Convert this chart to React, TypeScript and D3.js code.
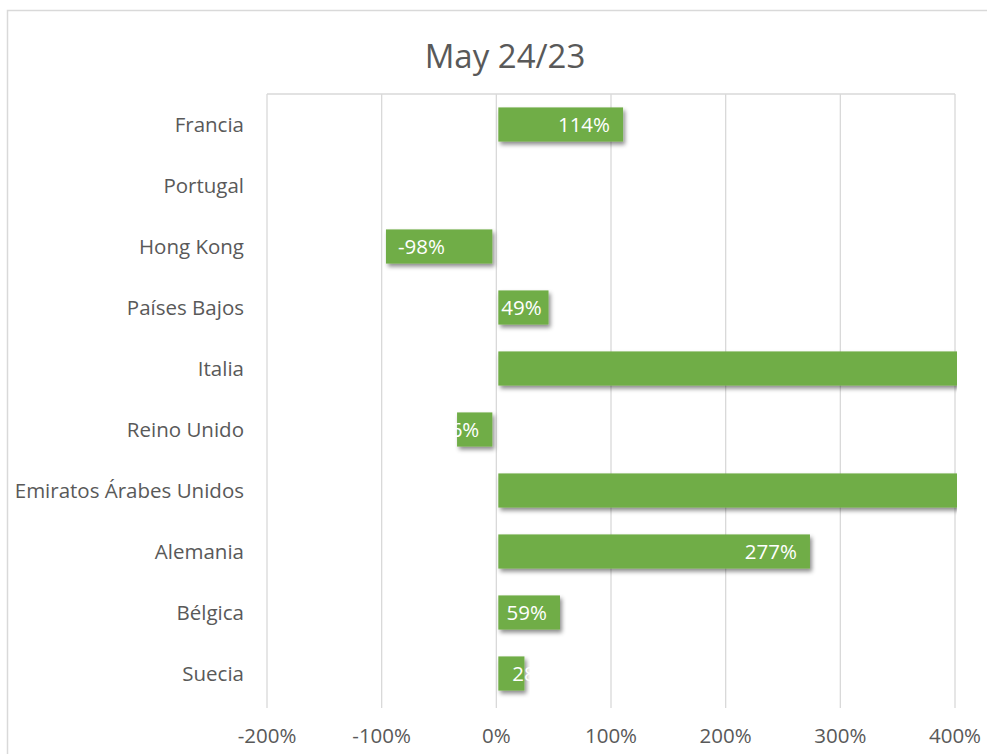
import React from "react";
import * as d3 from "d3";

const categories = [
  "Francia",
  "Portugal",
  "Hong Kong",
  "Países Bajos",
  "Italia",
  "Reino Unido",
  "Emiratos Árabes Unidos",
  "Alemania",
  "Bélgica",
  "Suecia",
];
const values: (number | null)[] = [1.14, null, -0.98, 0.49, 5.2, -0.36, 6.1, 2.77, 0.59, 0.28];
const ticks = [-2, -1, 0, 1, 2, 3, 4];
const title = "May 24/23";

const W = 987;
const H = 754;
const FONT = "'Open Sans', sans-serif";
const FS = 20.5;

export default function App() {
  const x = d3.scaleLinear().domain([-2, 4]).range([267, 955]);
  const y = d3
    .scaleBand<string>()
    .domain(categories)
    .range([94, 704])
    .paddingInner(0.44)
    .paddingOuter(0.22);
  const fmt = (v: number) => d3.format(".0%")(v).replace("\u2212", "-");
  const green = "#70AD47";
  const grid = "#D9D9D9";
  const textCol = "#595959";
  const [lo, hi] = x.domain();

  const measure = (s: string) => {
    let w = 0;
    for (const ch of s) w += ch === "%" ? 17 : ch === "-" ? 7 : 11.7;
    return w;
  };

  return (
    <svg
      width={W}
      height={H}
      style={{ position: "absolute", left: 0, top: 0, background: "#fff" }}
      fontFamily={FONT}
    >
      <defs>
        <filter id="sh" x="-10%" y="-30%" width="130%" height="180%">
          <feDropShadow dx="2" dy="3" stdDeviation="2.2" floodColor="#000" floodOpacity="0.45" />
        </filter>
        <clipPath id="plotclip">
          <rect x={x(lo)} y={80} width={x(hi) - x(lo) + 2} height={640} />
        </clipPath>
      </defs>
      <rect x={7.5} y={10.5} width={W + 20} height={H + 20} fill="#fff" stroke={grid} strokeWidth={1.5} />
      <text x={505} y={68} textAnchor="middle" fontSize={33} fill={textCol}>
        {title}
      </text>
      {ticks.map((t) => (
        <line key={"g" + t} x1={x(t)} x2={x(t)} y1={94} y2={708} stroke={grid} strokeWidth={1.3} />
      ))}
      <line x1={x(lo)} x2={x(hi)} y1={94} y2={94} stroke={grid} strokeWidth={1.3} />
      {ticks.map((t) => (
        <text key={"t" + t} x={x(t)} y={743} textAnchor="middle" fontSize={FS} fill={textCol}>
          {fmt(t)}
        </text>
      ))}
      {categories.map((c) => (
        <text
          key={"c" + c}
          x={244}
          y={(y(c) as number) + y.bandwidth() / 2}
          dy="0.36em"
          textAnchor="end"
          fontSize={FS}
          fill={textCol}
        >
          {c}
        </text>
      ))}
      <g clipPath="url(#plotclip)">
        {categories.map((c, i) => {
          const v = values[i];
          if (v == null) return null;
          const x0 = x(0);
          const x1 = x(v);
          const left = Math.min(x0, x1);
          const w = Math.abs(x1 - x0);
          return (
            <rect
              key={"b" + c}
              x={left + 2}
              y={y(c) as number}
              width={Math.max(0, w - 6)}
              height={y.bandwidth()}
              fill={green}
              filter="url(#sh)"
            />
          );
        })}
        {categories.map((c, i) => {
          const v = values[i];
          if (v == null || v > hi || v < lo) return null;
          const label = fmt(v);
          const x0 = x(0);
          const x1 = x(v);
          const w = Math.abs(x1 - x0);
          const lw = measure(label);
          let tx: number;
          let anchor: "start" | "end";
          if (v >= 0) {
            if (lw > w) {
              tx = x0 + 16;
              anchor = "start";
            } else {
              tx = Math.max(x1 - 17, x0 + 5 + lw);
              anchor = "end";
            }
          } else {
            if (lw > w) {
              tx = x0 - 17;
              anchor = "end";
            } else {
              tx = Math.min(x1 + 14, x0 - 5 - lw);
              anchor = "start";
            }
          }
          return (
            <text
              key={"l" + c}
              x={tx}
              y={(y(c) as number) + y.bandwidth() / 2}
              dy="0.36em"
              textAnchor={anchor}
              fontSize={FS}
              fill="#fff"
            >
              {label}
            </text>
          );
        })}
      </g>
    </svg>
  );
}
